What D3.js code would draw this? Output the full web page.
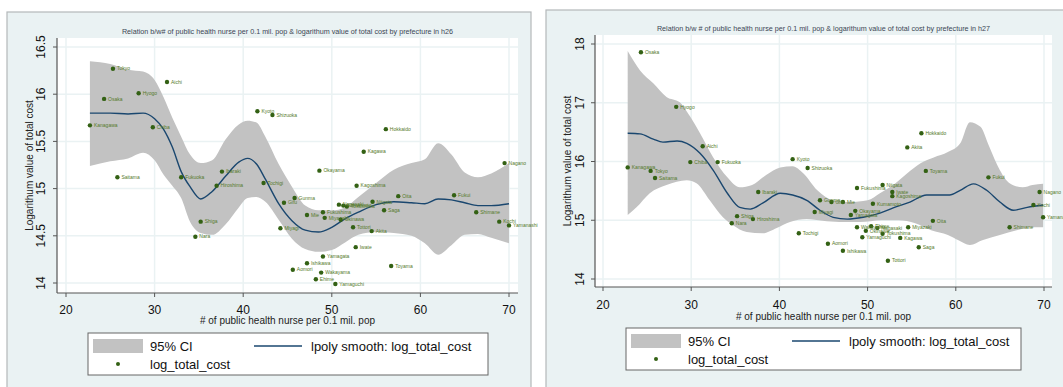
<!DOCTYPE html>
<html>
<head>
<meta charset="utf-8">
<script src="https://cdn.jsdelivr.net/npm/d3@7"></script>
<style>
body { margin: 0; background: #fff; }
svg { display: block; }
text { font-family: "Liberation Sans", Arial, sans-serif; }
</style>
</head>
<body>
<svg id="chart" width="1063" height="387"></svg>
<script>
// ---- h26 data ----
names26 = ["Tokyo","Aichi","Osaka","Hyogo","Kanagawa","Chiba","Saitama","Fukuoka","Ibaraki","Hiroshima",
  "Shiga","Nara","Kyoto","Shizuoka","Tochigi","Gunma","Gifu","Miyagi","Okayama","Hokkaido",
  "Kagawa","Kagoshima","Nagano","Oita","Fukui","Saga","Shimane","Kochi","Yamanashi","Akita",
  "Iwate","Yamagata","Ishikawa","Aomori","Wakayama","Ehime","Yamaguchi","Toyama","Nagasaki","Kumamoto",
  "Tokushima","Niigata","Mie","Fukushima","Miyazaki","Okinawa","Tottori"]
nurse26 = [25.3,31.4,24.3,28.2,22.7,29.8,25.8,33.0,37.6,37.0,
  35.2,34.6,41.6,43.3,42.3,45.8,44.6,44.2,48.6,56.1,
  53.6,52.8,69.5,57.5,63.8,55.9,66.3,68.9,70.0,54.5,
  52.7,49.0,47.2,45.6,48.8,48.2,50.4,56.7,50.8,51.3,
  51.7,54.6,47.2,49.0,49.2,51.0,52.4]
cost26 = [16.27,16.13,15.95,16.01,15.67,15.65,15.12,15.12,15.18,15.03,
  14.65,14.49,15.82,15.78,15.06,14.90,14.85,14.58,15.19,15.63,
  15.39,15.03,15.27,14.92,14.93,14.77,14.75,14.65,14.61,14.55,
  14.38,14.28,14.21,14.14,14.11,14.04,13.99,14.18,14.83,14.82,
  14.81,14.86,14.72,14.75,14.69,14.67,14.59]
grid26 = [22.7,25,27,28.7,30,31,32,33,34,35.2,36.5,38,39.5,40.5,41.5,42.5,44,45.5,47,48.5,50,51.5,53,55,57,59,60.5,62,63.5,65,66.5,68,70]
fit26 = [15.80,15.80,15.79,15.80,15.74,15.63,15.44,15.18,15.02,14.89,14.97,15.13,15.28,15.32,15.26,15.10,14.84,14.66,14.56,14.54,14.59,14.68,14.75,14.83,14.86,14.85,14.84,14.89,14.88,14.85,14.82,14.82,14.84]
hi26 = [16.35,16.32,16.26,16.24,16.15,15.97,15.75,15.55,15.36,15.27,15.30,15.52,15.68,15.72,15.70,15.55,15.26,15.02,14.82,14.77,14.77,14.80,14.91,15.06,15.20,15.27,15.31,15.48,15.36,15.17,15.12,15.16,15.27]
lo26 = [15.24,15.29,15.32,15.38,15.30,15.15,15.03,14.90,14.65,14.53,14.51,14.62,14.80,14.90,14.91,14.86,14.67,14.47,14.36,14.33,14.35,14.43,14.51,14.54,14.53,14.50,14.42,14.30,14.40,14.51,14.52,14.48,14.42]

// ---- h27 data ----
names27 = ["Osaka","Hyogo","Aichi","Chiba","Fukuoka","Kanagawa","Tokyo","Saitama","Kyoto","Shizuoka",
  "Hokkaido","Akita","Toyama","Fukui","Nagano","Fukushima","Niigata","Iwate","Kagoshima","Ibaraki",
  "Kumamoto","Gunma","Gifu","Mie","Miyagi","Okayama","Yamagata","Shiga","Hiroshima","Nara",
  "Tochigi","Wakayama","Ehime","Nagasaki","Okinawa","Yamaguchi","Tokushima","Kagawa","Miyazaki","Oita",
  "Shimane","Kochi","Yamanashi","Aomori","Ishikawa","Saga","Tottori"]
nurse27 = [24.3,28.3,31.3,29.9,33.0,22.8,25.4,25.9,41.5,43.2,
  56.1,54.5,56.6,63.7,69.5,48.8,51.7,52.8,52.8,37.6,
  50.6,44.6,45.9,47.2,44.0,48.6,48.1,35.2,37.0,34.6,
  42.2,48.8,50.4,51.1,49.8,49.4,51.7,53.7,54.6,57.4,
  66.1,68.8,69.9,45.5,47.2,55.8,52.3]
cost27 = [17.86,16.93,16.26,15.99,15.99,15.90,15.84,15.72,16.04,15.89,
  16.48,16.24,15.84,15.73,15.48,15.55,15.60,15.48,15.41,15.48,
  15.28,15.34,15.31,15.31,15.14,15.16,15.09,15.07,15.02,14.95,
  14.78,14.88,14.90,14.87,14.82,14.71,14.77,14.70,14.88,14.99,
  14.88,15.26,15.05,14.60,14.48,14.54,14.31]
fit27X = [22.8,24.2,25.7,26.8,28.4,29.5,31.0,32.5,34.1,35.5,36.7,38.1,40.1,41.5,43.1,44.6,46.1,47.7,49.5,51.4,52.9,54.8,56.7,59.3,60.5,62.0,63.5,65.0,66.5,68.1,69.9]
fit27Y = [16.48,16.47,16.38,16.33,16.35,16.31,16.14,15.85,15.46,15.22,15.19,15.29,15.46,15.43,15.34,15.17,15.05,15.02,15.05,15.12,15.21,15.31,15.43,15.43,15.51,15.62,15.51,15.31,15.17,15.22,15.26]
hi27X = [22.8,24.2,25.7,27.2,28.7,29.9,31.0,32.5,34.1,35.5,36.9,38.5,40.1,41.5,42.7,44.3,46.1,48.0,50.0,51.4,52.9,54.5,56.0,57.5,59.1,60.5,61.6,62.8,63.8,65.0,66.1,67.6,68.7,69.9]
hi27Y = [17.88,17.55,17.33,17.10,17.01,16.76,16.48,16.07,15.73,15.56,15.60,15.77,15.90,15.92,15.80,15.51,15.34,15.31,15.34,15.46,15.60,15.80,15.97,16.07,16.16,16.31,16.67,16.59,16.25,15.85,15.63,15.56,15.60,15.62]
lo27X = [22.8,23.8,25.3,27.2,29.5,30.6,32.1,33.6,34.7,36.3,38.1,39.7,41.2,43.1,44.9,46.8,49.1,51.6,53.5,55.4,57.2,59.1,60.3,61.6,63.0,65.0,66.9,68.7,69.9]
lo27Y = [15.09,15.22,15.46,15.60,15.68,15.63,15.34,15.05,14.92,14.80,14.78,14.87,14.97,15.02,14.99,14.97,14.97,15.00,15.00,14.95,14.83,14.75,14.66,14.58,14.66,14.75,14.83,14.88,14.88]

xTicks = [20, 30, 40, 50, 60, 70]
yTicks26 = [14, 14.5, 15, 15.5, 16, 16.5]
yTicks27 = [14, 15, 16, 17, 18]

xTitle = "# of public health nurse per 0.1 mil. pop"
yTitle = "Logarithum value of total cost"
legendLabels = ["95% CI", "lpoly smooth: log_total_cost", "log_total_cost"]

const zip = (xs, ys) => xs.map((x, i) => ({x: x, y: ys[i]}))

panels = [
  {
    title: "Relation b/w# of public health nurse per 0.1 mil. pop & logarithum value of total cost by prefecture in h26",
    frame: [7, 12, 524, 380], plot: [57, 38, 518, 293],
    xRange: [66, 509], yRange: [283, 47], yDomain: [14, 16.5], yTicks: yTicks26,
    titleY: 34, yLabX: 41, yTitleX: 29, xLabY: 314, xTitleY: 324,
    legend: [88, 333, 400, 42],
    pts: names26.map((n, i) => ({name: n, x: nurse26[i], y: cost26[i]})),
    fit: zip(grid26, fit26), hi: zip(grid26, hi26), lo: zip(grid26, lo26)
  },
  {
    title: "Relation b/w # of public health nurse per 0.1 mil. pop & logarithum value of total cost by prefecture in h27",
    frame: [546, 10, 520, 385], plot: [595, 35, 1052, 287],
    xRange: [603, 1044], yRange: [279, 44], yDomain: [14, 18], yTicks: yTicks27,
    titleY: 31, yLabX: 580, yTitleX: 567, xLabY: 309, xTitleY: 320,
    legend: [626, 328, 395, 42],
    pts: names27.map((n, i) => ({name: n, x: nurse27[i], y: cost27[i]})),
    fit: zip(fit27X, fit27Y), hi: zip(hi27X, hi27Y), lo: zip(lo27X, lo27Y)
  }
]

svg = d3.select("#chart")
bg = "#eaf2f3"

panels.forEach(function(p){
  const g = svg.append("g")
  g.append("rect").attr("x", p.frame[0]).attr("y", p.frame[1])
    .attr("width", p.frame[2]).attr("height", p.frame[3])
    .attr("fill", bg).attr("stroke", "#b4b8ba").attr("stroke-width", 1.2)

  const x = d3.scaleLinear().domain([20, 70]).range(p.xRange)
  const y = d3.scaleLinear().domain(p.yDomain).range(p.yRange)
  const pl = p.plot[0], pt = p.plot[1], pr = p.plot[2], pb = p.plot[3]

  g.append("rect").attr("x", pl).attr("y", pt)
    .attr("width", pr - pl).attr("height", pb - pt).attr("fill", "#fff")

  // grid
  g.selectAll(".hg").data(p.yTicks).join("line").attr("class", "hg")
    .attr("x1", pl).attr("x2", pr)
    .attr("y1", d => y(d)).attr("y2", d => y(d))
    .attr("stroke", bg).attr("stroke-width", 1.5)
  g.selectAll(".vg").data(xTicks).join("line").attr("class", "vg")
    .attr("y1", pt).attr("y2", pb)
    .attr("x1", d => x(d)).attr("x2", d => x(d))
    .attr("stroke", bg).attr("stroke-width", 1.5)

  // CI band
  const upper = d3.line().x(d => x(d.x)).y(d => y(d.y)).curve(d3.curveMonotoneX)(p.hi)
  const lower = d3.line().x(d => x(d.x)).y(d => y(d.y)).curve(d3.curveMonotoneX)(p.lo.slice().reverse())
  g.append("path").attr("d", upper + lower.replace(/^M/, "L") + "Z")
    .attr("fill", "#c2c2c2")

  // smooth
  g.append("path").datum(p.fit)
    .attr("d", d3.line().x(d => x(d.x)).y(d => y(d.y)).curve(d3.curveMonotoneX))
    .attr("fill", "none").attr("stroke", "#1a476f").attr("stroke-width", 1.4)

  // points + labels
  g.selectAll(".pt").data(p.pts).join("circle").attr("class", "pt")
    .attr("cx", d => x(d.x)).attr("cy", d => y(d.y)).attr("r", 2.2)
    .attr("fill", "#336114")
  g.selectAll(".lab").data(p.pts).join("text").attr("class", "lab")
    .attr("x", d => x(d.x) + 4).attr("y", d => y(d.y) + 1.7)
    .attr("font-size", 5).attr("fill", "#557a2a").text(d => d.name)

  // axes
  g.append("line").attr("x1", pl).attr("x2", pl).attr("y1", pt).attr("y2", pb)
    .attr("stroke", "#555").attr("stroke-width", 1.2)
  g.append("line").attr("x1", pl).attr("x2", pr).attr("y1", pb).attr("y2", pb)
    .attr("stroke", "#555").attr("stroke-width", 1.2)
  g.selectAll(".yt").data(p.yTicks).join("line").attr("class", "yt")
    .attr("x1", pl - 4).attr("x2", pl).attr("y1", d => y(d)).attr("y2", d => y(d))
    .attr("stroke", "#555")
  g.selectAll(".xt").data(xTicks).join("line").attr("class", "xt")
    .attr("y1", pb).attr("y2", pb + 4).attr("x1", d => x(d)).attr("x2", d => x(d))
    .attr("stroke", "#555")
  g.selectAll(".yl").data(p.yTicks).join("text").attr("class", "yl")
    .attr("transform", d => "translate(" + (p.yLabX + 4) + "," + y(d) + ") rotate(-90)")
    .attr("text-anchor", "middle").attr("font-size", 12).attr("fill", "#111")
    .text(d => String(d))
  g.selectAll(".xl").data(xTicks).join("text").attr("class", "xl")
    .attr("x", d => x(d)).attr("y", p.xLabY)
    .attr("text-anchor", "middle").attr("font-size", 12).attr("fill", "#111")
    .text(d => d)

  g.append("text").attr("x", (pl + pr) / 2).attr("y", p.xTitleY)
    .attr("text-anchor", "middle").attr("font-size", 10).attr("fill", "#222").text(xTitle)
  g.append("text")
    .attr("transform", "translate(" + (p.yTitleX + 3.5) + "," + ((pt + pb) / 2) + ") rotate(-90)")
    .attr("text-anchor", "middle").attr("font-size", 10).attr("fill", "#222").text(yTitle)
  g.append("text").attr("x", (pl + pr) / 2).attr("y", p.titleY)
    .attr("text-anchor", "middle").attr("font-size", 7.2).attr("fill", "#3b4654").text(p.title)

  // legend
  const lg = g.append("g").attr("transform", "translate(" + p.legend[0] + "," + p.legend[1] + ")")
  lg.append("rect").attr("width", p.legend[2]).attr("height", p.legend[3])
    .attr("fill", "#fff").attr("stroke", "#666").attr("stroke-width", 1)
  lg.append("rect").attr("x", 5).attr("y", 6).attr("width", 50).attr("height", 14).attr("fill", "#c2c2c2")
  lg.append("line").attr("x1", 166).attr("x2", 214).attr("y1", 13).attr("y2", 13)
    .attr("stroke", "#1a476f").attr("stroke-width", 1.4)
  lg.append("circle").attr("cx", 30).attr("cy", 31).attr("r", 2).attr("fill", "#336114")
  lg.selectAll(".lt").data([[62, 13, 0], [223, 13, 1], [62, 31, 2]]).join("text").attr("class", "lt")
    .attr("x", d => d[0]).attr("y", d => d[1] + 4.5)
    .attr("font-size", 13).attr("fill", "#111").text(d => legendLabels[d[2]])
})
</script>
</body>
</html>
